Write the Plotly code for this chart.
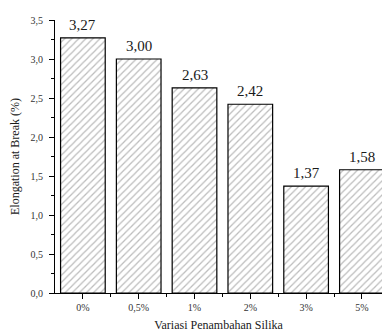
import plotly.graph_objects as go

# Elongation at break for each silica addition level
categories = ["0%", "0,5%", "1%", "2%", "3%", "5%"]
elongation = [3.27, 3.00, 2.63, 2.42, 1.37, 1.58]
value_labels = ["3,27", "3,00", "2,63", "2,42", "1,37", "1,58"]

serif = "Liberation Serif, Times New Roman, serif"
idx = list(range(len(categories)))

fig = go.Figure()
fig.add_trace(go.Bar(
    x=idx,
    y=elongation,
    width=0.8,
    marker=dict(
        color="white",
        line=dict(color="black", width=1.2),
        pattern=dict(shape="/", fgcolor="#7a7a7a", bgcolor="white",
                     size=5, solidity=0.25),
    ),
    showlegend=False,
    hoverinfo="skip",
))

for i, v, t in zip(idx, elongation, value_labels):
    fig.add_annotation(x=i, y=v, text=t, showarrow=False,
                       yanchor="bottom", yshift=3,
                       font=dict(family=serif, size=15, color="#1a1a1a"))

fig.update_layout(
    width=382, height=333,
    margin=dict(l=55, r=0, t=20, b=40),
    paper_bgcolor="white", plot_bgcolor="white",
    separators=",.",
    font=dict(family=serif, color="#333"),
    bargap=0.2,
)
fig.update_xaxes(
    range=[-0.5, 5.36],
    tickmode="array", tickvals=idx, ticktext=categories,
    tickfont=dict(size=10, family=serif, color="#333"),
    showline=True, linecolor="black", linewidth=1,
    ticks="outside", ticklen=5, tickcolor="black",
    minor=dict(tickmode="array", tickvals=[i + 0.5 for i in idx],
               ticks="outside", ticklen=3, tickcolor="black"),
    showgrid=False, zeroline=False,
    title=dict(text="Variasi Penambahan Silika",
               font=dict(size=12, family=serif, color="#1a1a1a"), standoff=8),
)
fig.update_yaxes(
    range=[0, 3.5],
    tickmode="linear", tick0=0, dtick=0.5, tickformat=".1f",
    tickfont=dict(size=10, family=serif, color="#333"),
    ticklabelstandoff=4,
    showline=True, linecolor="black", linewidth=1,
    ticks="outside", ticklen=5, tickcolor="black",
    minor=dict(dtick=0.25, ticks="outside", ticklen=3, tickcolor="black"),
    showgrid=False, zeroline=False,
    title=dict(text="Elongation at Break (%)",
               font=dict(size=12, family=serif, color="#1a1a1a"), standoff=8),
)

fig.write_html("out.html")
